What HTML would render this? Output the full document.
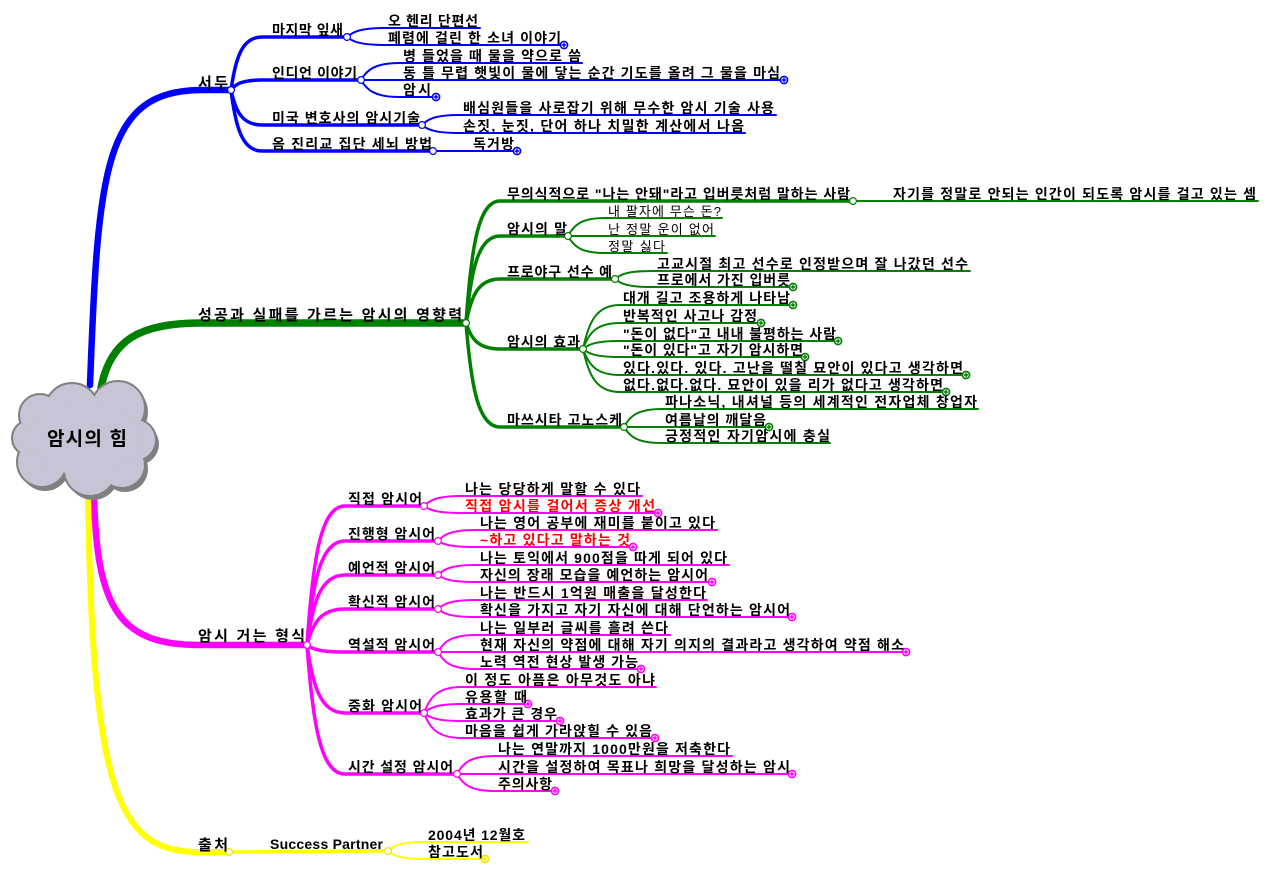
<!DOCTYPE html>
<html><head><meta charset="utf-8"><style>
html,body{margin:0;padding:0;background:#fff;}
svg{display:block;}
text{font-family:"Liberation Sans","Noto Sans CJK KR","NanumGothic",sans-serif;fill:#000;}
.b{font-size:14px;font-weight:bold;}
.n{font-size:13px;font-weight:normal;}
.m{font-size:15px;font-weight:bold;}
.r{fill:#ff0000;}
</style></head><body>
<svg width="1280" height="874" viewBox="0 0 1280 874" xmlns="http://www.w3.org/2000/svg">
<defs>
<g id="pl"><circle r="3.6" fill="#fff" stroke="currentColor" stroke-width="1.6"/><path d="M-2.2 0H2.2M0 -2.2V2.2" stroke="currentColor" stroke-width="1.4"/></g>
</defs>

<!-- MAIN BRANCHES -->
<g fill="none" stroke-linecap="round">
<path d="M90 385 C98 170 104 91 200 90 L231 90" stroke="#0000ff" stroke-width="6.5"/>
<path d="M101 388 C110 340 140 323 200 323 L466 323" stroke="#008000" stroke-width="7.5"/>
<path d="M94 492 C96 610 120 645 200 645 L307 645" stroke="#ff00ff" stroke-width="6.5"/>
<path d="M88 492 C92 800 120 852 200 852 L229 852" stroke="#ffff00" stroke-width="6"/>
</g>

<!-- BLUE -->
<g fill="none" stroke="#0000ff" stroke-linecap="round">
<g stroke-width="3.5">
<path d="M231 90 C235.6 58.2 241.9 37 262 37 L347 37"/>
<path d="M231 90 C235.6 84 241.9 80 262 80 L361 80"/>
<path d="M231 90 C235.6 111 241.9 125 262 125 L422 125"/>
<path d="M231 90 C235.6 126.6 241.9 151 262 151 L433 151"/>
</g>
<g stroke-width="2">
<path d="M347 37 C352.9 31.6 360.7 28 386 28 L480 28"/>
<path d="M347 37 C352.9 41.8 360.7 45 386 45 L564 45"/>
<path d="M361 80 C366.9 69.8 374.7 63 400 63 L582 63"/>
<path d="M361 80 L784 80"/>
<path d="M361 80 C366.9 90.2 374.7 97 400 97 L436 97"/>
<path d="M422 125 C427.7 119 435.3 115 460 115 L776 115"/>
<path d="M422 125 C427.7 129.8 435.3 133 460 133 L745 133"/>
<path d="M433 151 L517 151"/>
</g>
</g>

<!-- GREEN -->
<g fill="none" stroke="#008000" stroke-linecap="round">
<g stroke-width="3.5">
<path d="M466 323 C471.1 249.8 477.9 201 500 201 L853 201"/>
<path d="M466 323 C471.1 270.8 477.9 236 500 236 L568 236"/>
<path d="M466 323 C471.1 296.6 477.9 279 500 279 L615 279"/>
<path d="M466 323 C471.1 338.6 477.9 349 500 349 L583 349"/>
<path d="M466 323 C471.1 385.4 477.9 427 500 427 L624 427"/>
</g>
<g stroke-width="2">
<path d="M853 201 L1258 201"/>
<path d="M568 236 C573.6 225.2 581 218 605 218 L722 218"/>
<path d="M568 236 L715 236"/>
<path d="M568 236 C573.6 246.2 581 253 605 253 L667 253"/>
<path d="M615 279 C620.6 274.2 628 271 652 271 L970 271"/>
<path d="M615 279 C620.6 283.8 628 287 652 287 L793 287"/>
<path d="M583 349 C588.6 322.6 596 305 620 305 L793 305"/>
<path d="M583 349 C588.6 333.4 596 323 620 323 L761 323"/>
<path d="M583 349 C588.6 344.2 596 341 620 341 L838 341"/>
<path d="M583 349 C588.6 353.8 596 357 620 357 L805 357"/>
<path d="M583 349 C588.6 364.6 596 375 620 375 L966 375"/>
<path d="M583 349 C588.6 374.8 596 392 620 392 L946 392"/>
<path d="M624 427 C629.7 416.2 637.3 409 662 409 L978 409"/>
<path d="M624 427 L769 427"/>
<path d="M624 427 C629.7 436.6 637.3 443 662 443 L830 443"/>
</g>
</g>

<!-- MAGENTA -->
<g fill="none" stroke="#ff00ff" stroke-linecap="round">
<g stroke-width="3.5">
<path d="M307 645 C312.7 561.6 320.3 506 345 506 L424 506"/>
<path d="M307 645 C312.7 582.6 320.3 541 345 541 L438 541"/>
<path d="M307 645 C312.7 603 320.3 575 345 575 L438 575"/>
<path d="M307 645 C312.7 623.4 320.3 609 345 609 L438 609"/>
<path d="M307 645 C312.7 649.2 320.3 652 345 652 L438 652"/>
<path d="M307 645 C312.7 685.8 320.3 713 345 713 L424 713"/>
<path d="M307 645 C312.7 722.4 320.3 774 345 774 L457 774"/>
</g>
<g stroke-width="2">
<path d="M424 506 C429.7 500 437.3 496 462 496 L642 496"/>
<path d="M424 506 C429.7 510.2 437.3 513 462 513 L658 513"/>
<path d="M438 541 C443.7 534.4 451.3 530 476 530 L717 530"/>
<path d="M438 541 C443.7 544.6 451.3 547 476 547 L633 547"/>
<path d="M438 575 C443.7 569 451.3 565 476 565 L729 565"/>
<path d="M438 575 C443.7 579.2 451.3 582 476 582 L712 582"/>
<path d="M438 609 C443.7 603.6 451.3 600 476 600 L707 600"/>
<path d="M438 609 C443.7 613.8 451.3 617 476 617 L792 617"/>
<path d="M438 652 C443.7 641.8 451.3 635 476 635 L670 635"/>
<path d="M438 652 L906 652"/>
<path d="M438 652 C443.7 662.2 451.3 669 476 669 L641 669"/>
<path d="M424 713 C429.7 697.4 437.3 687 462 687 L656 687"/>
<path d="M424 713 C429.7 707.6 437.3 704 462 704 L528 704"/>
<path d="M424 713 C429.7 717.8 437.3 721 462 721 L560 721"/>
<path d="M424 713 C429.7 728 437.3 738 462 738 L655 738"/>
<path d="M457 774 C462.7 763.2 470.3 756 495 756 L732 756"/>
<path d="M457 774 L792 774"/>
<path d="M457 774 C462.7 784.2 470.3 791 495 791 L555 791"/>
</g>
</g>

<!-- YELLOW -->
<g fill="none" stroke="#ffff00" stroke-linecap="round">
<path d="M229 852 L388 851" stroke-width="3.5"/>
<g stroke-width="2">
<path d="M388 851 C393.6 845.6 401 842 425 842 L528 842"/>
<path d="M388 851 C393.6 855.8 401 859 425 859 L485 859"/>
</g>
</g>

<!-- NODES -->
<g fill="#fff" stroke-width="1.2">
<g stroke="#0000ff">
<circle cx="231" cy="90" r="3.4"/><circle cx="347" cy="37" r="3.4"/><circle cx="361" cy="80" r="3.4"/><circle cx="422" cy="125" r="3.4"/><circle cx="433" cy="151" r="3.4"/>
</g>
<g stroke="#008000">
<circle cx="466" cy="323" r="3.4"/><circle cx="853" cy="201" r="3.4"/><circle cx="568" cy="236" r="3.4"/><circle cx="615" cy="279" r="3.4"/><circle cx="583" cy="349" r="3.4"/><circle cx="624" cy="427" r="3.4"/>
</g>
<g stroke="#ff00ff">
<circle cx="307" cy="645" r="3.4"/><circle cx="424" cy="506" r="3.4"/><circle cx="438" cy="541" r="3.4"/><circle cx="438" cy="575" r="3.4"/><circle cx="438" cy="609" r="3.4"/><circle cx="438" cy="652" r="3.4"/><circle cx="424" cy="713" r="3.4"/><circle cx="457" cy="774" r="3.4"/>
</g>
<g stroke="#e8e800">
<circle cx="229" cy="852" r="3.4"/><circle cx="388" cy="851" r="3.4"/>
</g>
</g>

<!-- PLUS ICONS -->
<g color="#0000ff">
<use href="#pl" x="564" y="45"/><use href="#pl" x="784" y="80"/><use href="#pl" x="436" y="97"/><use href="#pl" x="517" y="151"/>
</g>
<g color="#008000">
<use href="#pl" x="793" y="287"/><use href="#pl" x="793" y="305"/><use href="#pl" x="761" y="323"/><use href="#pl" x="838" y="341"/><use href="#pl" x="805" y="357"/><use href="#pl" x="966" y="375"/><use href="#pl" x="946" y="392"/><use href="#pl" x="769" y="427"/>
</g>
<g color="#ff00ff">
<use href="#pl" x="658" y="513"/><use href="#pl" x="633" y="547"/><use href="#pl" x="712" y="582"/><use href="#pl" x="792" y="617"/><use href="#pl" x="906" y="652"/><use href="#pl" x="641" y="669"/><use href="#pl" x="528" y="704"/><use href="#pl" x="560" y="721"/><use href="#pl" x="655" y="738"/><use href="#pl" x="792" y="774"/><use href="#pl" x="555" y="791"/>
</g>
<g color="#e8e800">
<use href="#pl" x="485" y="859"/>
</g>

<!-- CLOUD -->
<g transform="translate(3,4)" fill="#808080">
<circle cx="40" cy="415" r="21"/><circle cx="72" cy="410" r="27"/><circle cx="118" cy="408" r="27"/><circle cx="135" cy="440" r="21"/><circle cx="122" cy="465" r="23"/><circle cx="90" cy="470" r="26"/><circle cx="42" cy="462" r="25"/><circle cx="30" cy="438" r="18"/><ellipse cx="85" cy="440" rx="55" ry="35"/>
</g>
<g fill="#c5c5d6" stroke="#808080" stroke-width="4">
<circle cx="40" cy="415" r="20"/><circle cx="72" cy="410" r="26"/><circle cx="118" cy="408" r="26"/><circle cx="135" cy="440" r="20"/><circle cx="122" cy="465" r="22"/><circle cx="90" cy="470" r="25"/><circle cx="42" cy="462" r="24"/><circle cx="30" cy="438" r="17"/>
</g>
<g fill="#c5c5d6">
<circle cx="40" cy="415" r="20"/><circle cx="72" cy="410" r="26"/><circle cx="118" cy="408" r="26"/><circle cx="135" cy="440" r="20"/><circle cx="122" cy="465" r="22"/><circle cx="90" cy="470" r="25"/><circle cx="42" cy="462" r="24"/><circle cx="30" cy="438" r="17"/><ellipse cx="85" cy="440" rx="55" ry="35"/>
</g>
<text x="47" y="445" style="font-size:19px;font-weight:bold" textLength="80">암시의 힘</text>

<!-- TEXT BLUE -->
<text class="m" x="198" y="88" textLength="30">서두</text>
<text class="b" x="272" y="35" textLength="71">마지막 잎새</text>
<text class="b" x="388" y="26" textLength="90">오 헨리 단편선</text>
<text class="b" x="388" y="43" textLength="173">폐렴에 걸린 한 소녀 이야기</text>
<text class="b" x="272" y="78" textLength="85">인디언 이야기</text>
<text class="b" x="403" y="61" textLength="178">병 들었을 때 물을 약으로 씀</text>
<text class="b" x="403" y="78" textLength="377">동 틀 무렵 햇빛이 물에 닿는 순간 기도를 올려 그 물을 마심</text>
<text class="b" x="403" y="95" textLength="28">암시</text>
<text class="b" x="272" y="123" textLength="148">미국 변호사의 암시기술</text>
<text class="b" x="463" y="113" textLength="311">배심원들을 사로잡기 위해 무수한 암시 기술 사용</text>
<text class="b" x="463" y="131" textLength="281">손짓, 눈짓, 단어 하나 치밀한 계산에서 나옴</text>
<text class="b" x="272" y="149" textLength="160">옴 진리교 집단 세뇌 방법</text>
<text class="b" x="473" y="149" textLength="41">독거방</text>

<!-- TEXT GREEN -->
<text class="m" x="198" y="320" textLength="264">성공과 실패를 가르는 암시의 영향력</text>
<text class="b" x="507" y="199" textLength="343">무의식적으로 "나는 안돼"라고 입버릇처럼 말하는 사람</text>
<text class="b" x="893" y="199" textLength="363">자기를 정말로 안되는 인간이 되도록 암시를 걸고 있는 셈</text>
<text class="b" x="507" y="234" textLength="60">암시의 말</text>
<text class="n" x="608" y="216" textLength="113">내 팔자에 무슨 돈?</text>
<text class="n" x="608" y="234" textLength="106">난 정말 운이 없어</text>
<text class="n" x="608" y="251" textLength="57">정말 싫다</text>
<text class="b" x="507" y="277" textLength="105">프로야구 선수 예</text>
<text class="b" x="657" y="269" textLength="311">고교시절 최고 선수로 인정받으며 잘 나갔던 선수</text>
<text class="b" x="657" y="285" textLength="133">프로에서 가진 입버릇</text>
<text class="b" x="507" y="347" textLength="73">암시의 효과</text>
<text class="b" x="623" y="303" textLength="167">대개 길고 조용하게 나타남</text>
<text class="b" x="623" y="321" textLength="134">반복적인 사고나 감정</text>
<text class="b" x="623" y="339" textLength="213">"돈이 없다"고 내내 불평하는 사람</text>
<text class="b" x="623" y="355" textLength="180">"돈이 있다"고 자기 암시하면</text>
<text class="b" x="623" y="373" textLength="340">있다.있다. 있다. 고난을 떨칠 묘안이 있다고 생각하면</text>
<text class="b" x="623" y="390" textLength="320">없다.없다.없다. 묘안이 있을 리가 없다고 생각하면</text>
<text class="b" x="507" y="425" textLength="115">마쓰시타 고노스케</text>
<text class="b" x="665" y="407" textLength="312">파나소닉, 내셔널 등의 세계적인 전자업체 창업자</text>
<text class="b" x="665" y="425" textLength="101">여름날의 깨달음</text>
<text class="b" x="665" y="441" textLength="165">긍정적인 자기암시에 충실</text>

<!-- TEXT MAGENTA -->
<text class="m" x="198" y="641" textLength="107">암시 거는 형식</text>
<text class="b" x="348" y="504" textLength="74">직접 암시어</text>
<text class="b" x="465" y="494" textLength="175">나는 당당하게 말할 수 있다</text>
<text class="b r" x="465" y="511" textLength="190">직접 암시를 걸어서 증상 개선</text>
<text class="b" x="348" y="539" textLength="87">진행형 암시어</text>
<text class="b" x="480" y="528" textLength="235">나는 영어 공부에 재미를 붙이고 있다</text>
<text class="b r" x="480" y="545" textLength="150">~하고 있다고 말하는 것</text>
<text class="b" x="348" y="573" textLength="87">예언적 암시어</text>
<text class="b" x="480" y="563" textLength="247">나는 토익에서 900점을 따게 되어 있다</text>
<text class="b" x="480" y="580" textLength="228">자신의 장래 모습을 예언하는 암시어</text>
<text class="b" x="348" y="607" textLength="87">확신적 암시어</text>
<text class="b" x="480" y="598" textLength="226">나는 반드시 1억원 매출을 달성한다</text>
<text class="b" x="480" y="615" textLength="310">확신을 가지고 자기 자신에 대해 단언하는 암시어</text>
<text class="b" x="348" y="650" textLength="87">역설적 암시어</text>
<text class="b" x="480" y="633" textLength="188">나는 일부러 글씨를 흘려 쓴다</text>
<text class="b" x="480" y="650" textLength="424">현재 자신의 약점에 대해 자기 의지의 결과라고 생각하여 약점 해소</text>
<text class="b" x="480" y="667" textLength="158">노력 역전 현상 발생 가능</text>
<text class="b" x="348" y="711" textLength="74">중화 암시어</text>
<text class="b" x="465" y="685" textLength="190">이 정도 아픔은 아무것도 아냐</text>
<text class="b" x="465" y="702" textLength="62">유용할 때</text>
<text class="b" x="465" y="719" textLength="92">효과가 큰 경우</text>
<text class="b" x="465" y="736" textLength="187">마음을 쉽게 가라앉힐 수 있음</text>
<text class="b" x="348" y="772" textLength="105">시간 설정 암시어</text>
<text class="b" x="498" y="754" textLength="232">나는 연말까지 1000만원을 저축한다</text>
<text class="b" x="498" y="772" textLength="292">시간을 설정하여 목표나 희망을 달성하는 암시</text>
<text class="b" x="498" y="789" textLength="54">주의사항</text>

<!-- TEXT YELLOW -->
<text class="m" x="198" y="850" textLength="30">출처</text>
<text x="270" y="849" style="font-size:14px;font-weight:bold" textLength="113">Success Partner</text>
<text class="b" x="428" y="840" textLength="97">2004년 12월호</text>
<text class="b" x="428" y="857" textLength="55">참고도서</text>
</svg>
</body></html>
